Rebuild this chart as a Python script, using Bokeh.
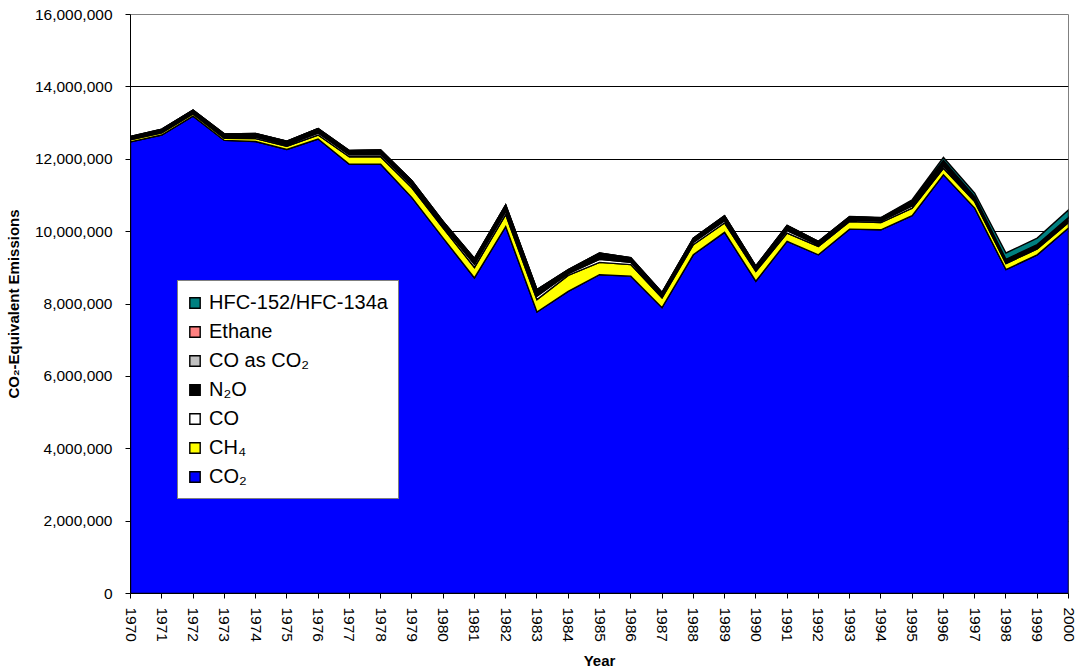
import math
import numpy as np
from bokeh.plotting import figure
from bokeh.models import (Range1d, FixedTicker, NumeralTickFormatter, Legend, LegendItem)
from bokeh.embed import file_html
from bokeh.resources import INLINE

years = list(range(1970, 2001))

# values in thousands
co2 = [12480, 12670, 13190, 12520, 12490, 12270, 12560, 11860, 11860, 10940,
       9820, 8720, 10140, 7780, 8350, 8810, 8770, 7900, 9360, 9980,
       8630, 9730, 9360, 10070, 10050, 10440, 11570, 10650, 8950, 9360, 10100]
ch4 = [60, 60, 60, 60, 80, 90, 110, 210, 210, 270,
       280, 290, 330, 340, 440, 340, 320, 270, 280, 260,
       270, 230, 230, 210, 200, 210, 180, 180, 170, 160, 150]
co = [25, 28, 30, 35, 40, 40, 55, 55, 60, 65,
      60, 85, 90, 95, 50, 85, 60, 45, 60, 65,
      45, 70, 42, 40, 40, 60, 65, 40, 30, 30, 35]
n2o = [50, 55, 62, 66, 78, 78, 98, 90, 102, 106,
       94, 130, 142, 146, 86, 138, 102, 82, 94, 106,
       82, 110, 76, 72, 70, 110, 130, 80, 70, 75, 90]
co_as_co2 = [12, 14, 15, 16, 18, 18, 23, 21, 24, 25,
             22, 31, 34, 35, 20, 33, 24, 19, 22, 25,
             19, 26, 17, 17, 16, 25, 20, 15, 10, 10, 12]
ethane = [3, 3, 3, 3, 4, 4, 4, 4, 4, 4,
          4, 4, 4, 4, 4, 4, 4, 4, 4, 4,
          4, 4, 4, 4, 4, 5, 5, 5, 5, 5, 5]
hfc = [0, 0, 0, 0, 0, 0, 0, 0, 0, 0,
       0, 0, 0, 0, 0, 0, 0, 0, 0, 0,
       0, 0, 1, 7, 10, 30, 80, 90, 175, 180, 208]

series = [
    ("CO₂", co2, "#0000FF"),
    ("CH₄", ch4, "#FFFF00"),
    ("CO", co, "#FFFFFF"),
    ("N₂O", n2o, "#000000"),
    ("CO as CO₂", co_as_co2, "#C0C0C0"),
    ("Ethane", ethane, "#FF8080"),
    ("HFC-152/HFC-134a", hfc, "#008080"),
]

FONT = "Liberation Sans"

p = figure(width=1076, height=671, output_backend="svg", toolbar_location=None,
           x_range=Range1d(1970, 2000), y_range=Range1d(0, 16000000),
           min_border_left=130, min_border_right=8, min_border_top=14, min_border_bottom=76)
p.background_fill_color = "white"
p.border_fill_color = "white"
p.outline_line_color = "#808080"
p.outline_line_width = 1

x = np.array(years, dtype=float)
bottom = np.zeros(len(years))
renderers = []
for name, vals, color in series:
    top = bottom + np.array(vals, dtype=float) * 1000.0
    xs = list(x) + list(x[::-1])
    ys = list(top) + list(bottom[::-1])
    r = p.patch(xs, ys, fill_color=color, line_color="black", line_width=1.4,
                line_join="miter")
    renderers.append((name, r))
    bottom = top

# axes
p.xaxis.ticker = FixedTicker(ticks=years)
p.xaxis.major_label_orientation = -math.pi / 2
p.xaxis.axis_label = "Year"
p.yaxis.ticker = FixedTicker(ticks=list(range(0, 16000001, 2000000)))
p.yaxis.formatter = NumeralTickFormatter(format="0,0")
p.yaxis.axis_label = "CO₂-Equivalent Emissions"

for ax in (p.xaxis[0], p.yaxis[0]):
    ax.axis_line_color = "black"
    ax.axis_line_width = 1
    ax.major_tick_line_color = "black"
    ax.major_tick_out = 5
    ax.major_tick_in = 0
    ax.minor_tick_line_color = None
    ax.major_label_text_font = FONT
    ax.major_label_text_font_size = "15.5px"
    ax.major_label_text_color = "black"
    ax.axis_label_text_font = FONT
    ax.axis_label_text_font_style = "bold"
    ax.axis_label_text_color = "black"
    ax.axis_label_text_font_size = "15px"

p.xaxis.major_label_standoff = 9
p.xaxis.axis_label_standoff = 7
p.yaxis.major_label_standoff = 13
p.yaxis.axis_label_standoff = 10

p.xgrid.grid_line_color = None
p.ygrid.grid_line_color = "black"
p.ygrid.grid_line_width = 1

items = [LegendItem(label=name, renderers=[r]) for name, r in reversed(renderers)]
legend = Legend(items=items, location=(47, 94))
legend.border_line_color = "black"
legend.border_line_width = 1
legend.background_fill_color = "white"
legend.background_fill_alpha = 1
legend.label_text_font = FONT
legend.label_text_font_size = "20px"
legend.label_text_color = "black"
legend.glyph_width = 13
legend.glyph_height = 13
legend.label_height = 22
legend.spacing = 6
legend.padding = 10
legend.margin = 0
legend.label_standoff = 8
p.add_layout(legend)

open("out.html", "w").write(file_html(p, INLINE))
